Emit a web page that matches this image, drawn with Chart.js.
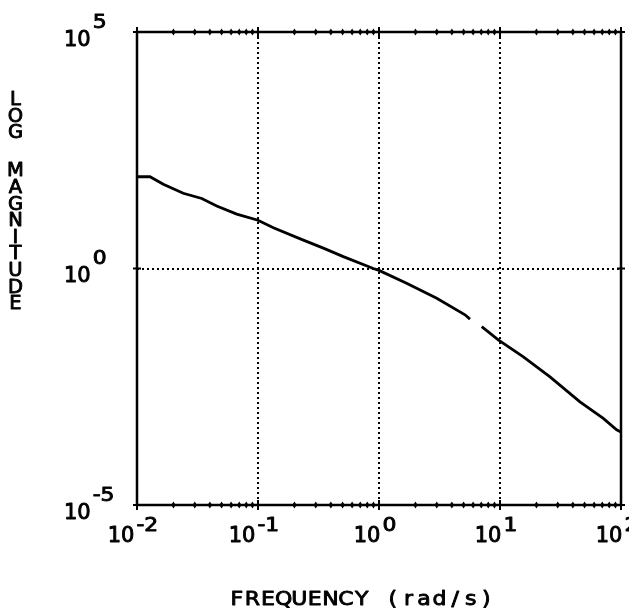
<!DOCTYPE html>
<html><head><meta charset="utf-8">
<script src="https://cdn.jsdelivr.net/npm/chart.js@4/dist/chart.umd.min.js"></script>
<style>html,body{margin:0;padding:0;background:#fff}#wrap{width:629px;height:614px}</style>
</head><body><div id="wrap"><canvas id="c" width="629" height="614"></canvas></div>
<script>
// ---- data ----
const frequency = [0.01, 0.0128, 0.0165, 0.0241, 0.0343, 0.0456, 0.0667, 0.1, 0.134, 0.237, 0.347, 0.507, 0.897, 1.0, 1.69, 3.0, 5.14, 5.65, 6.3, 7.06, 9.68, 15.6, 25.9, 45.8, 71.4, 92.0, 100];
const magnitude = [87.1, 87.1, 60.3, 38.9, 30.2, 20.9, 14.1, 10.5, 7.24, 3.98, 2.69, 1.78, 1.0, 0.912, 0.490, 0.234, 0.105, 0.0851, null, 0.0589, 0.0309, 0.0135, 0.00513, 0.00151, 0.000676, 0.000389, 0.00035];
const xTickExponents = [-2, -1, 0, 1, 2];
const yTickExponents = [-5, 0, 5];
const xTitle = 'FREQUENCY (rad/s)';
const yTitle = 'LOG MAGNITUDE';

const FONT = '"DejaVu Sans", "Liberation Sans", sans-serif';
const expText = e => (e < 0 ? '-' + Math.abs(e) : String(e));

// plotter-style text: regular glyph thickened with a thin stroke, optional horizontal stretch
function penText(ctx, txt, x, y, sx) {
  ctx.save();
  ctx.translate(x, y);
  ctx.scale(sx || 1, 1);
  ctx.lineWidth = 0.9;
  ctx.lineJoin = 'round';
  ctx.fillText(txt, 0, 0);
  ctx.strokeText(txt, 0, 0);
  ctx.restore();
}

const plotter = {
  id: 'plotter',
  beforeDatasetsDraw(chart) {
    const {ctx, chartArea: a, scales: {x, y}} = chart;
    ctx.save();
    ctx.strokeStyle = '#000';
    ctx.lineWidth = 2;
    ctx.setLineDash([2, 3]);
    xTickExponents.slice(1, -1).forEach(e => {
      const px = Math.round(x.getPixelForValue(Math.pow(10, e)));
      ctx.beginPath(); ctx.moveTo(px, a.top); ctx.lineTo(px, a.bottom); ctx.stroke();
    });
    yTickExponents.slice(1, -1).forEach(e => {
      const py = Math.round(y.getPixelForValue(Math.pow(10, e)));
      ctx.beginPath(); ctx.moveTo(a.left, py); ctx.lineTo(a.right, py); ctx.stroke();
    });
    ctx.restore();
  },
  afterDatasetsDraw(chart) {
    const {ctx, chartArea: a, scales: {x, y}} = chart;
    ctx.save();
    ctx.strokeStyle = '#000';
    ctx.fillStyle = '#000';
    // frame
    ctx.lineWidth = 2.5;
    ctx.strokeRect(a.left, a.top, a.right - a.left, a.bottom - a.top);
    // minor tick marks (dots) on top & bottom borders
    for (let i = 0; i < xTickExponents.length - 1; i++) {
      for (let k = 2; k <= 9; k++) {
        const px = x.getPixelForValue(k * Math.pow(10, xTickExponents[i]));
        [a.top, a.bottom].forEach(py => {
          ctx.beginPath();
          ctx.moveTo(px, py - 3.5); ctx.lineTo(px + 2.2, py); ctx.lineTo(px, py + 3.5); ctx.lineTo(px - 2.2, py);
          ctx.closePath(); ctx.fill();
        });
      }
    }
    // major ticks
    ctx.lineWidth = 2;
    xTickExponents.forEach(e => {
      const px = x.getPixelForValue(Math.pow(10, e));
      [a.top, a.bottom].forEach(py => {
        ctx.beginPath(); ctx.moveTo(px, py - 5); ctx.lineTo(px, py + 5); ctx.stroke();
      });
    });
    yTickExponents.forEach(e => {
      const py = y.getPixelForValue(Math.pow(10, e));
      [a.left, a.right].forEach(px => {
        ctx.beginPath(); ctx.moveTo(px - 4, py); ctx.lineTo(px + 4, py); ctx.stroke();
      });
    });
    // x tick labels
    ctx.textBaseline = 'alphabetic';
    ctx.textAlign = 'left';
    const F1 = '21px ' + FONT, F2 = '19px ' + FONT;
    xTickExponents.forEach(e => {
      const px = x.getPixelForValue(Math.pow(10, e));
      ctx.font = F1;
      const w1 = ctx.measureText('10').width;
      ctx.font = F2;
      const et = expText(e);
      const w2 = ctx.measureText(et).width * 1.15;
      const start = px - 4 - (w1 + 2 + w2) / 2;
      ctx.font = F1;
      penText(ctx, '10', start, 542);
      ctx.font = F2;
      penText(ctx, et, start + w1 + 2, 531, 1.15);
    });
    // y tick labels
    yTickExponents.forEach(e => {
      const py = y.getPixelForValue(Math.pow(10, e));
      ctx.font = F1;
      const w1 = ctx.measureText('10').width;
      penText(ctx, '10', 64, py + 13.5);
      ctx.font = F2;
      penText(ctx, expText(e), 64 + w1 + 2, py - 4.5, 1.15);
    });
    // x title: plotter-style fixed cells
    ctx.font = '20px ' + FONT;
    ctx.textAlign = 'center';
    const cell = 15.6, x0 = 229;
    [...xTitle].forEach((ch, i) => {
      if (ch !== ' ') penText(ctx, ch, x0 + (i + 0.5) * cell, 605, 1.1);
    });
    // y title: stacked letters
    ctx.font = '19.5px ' + FONT;
    ctx.textBaseline = 'middle';
    let yy = 100;
    [...yTitle].forEach(ch => {
      if (ch === ' ') { yy += 21.5; return; }
      penText(ctx, ch, 15.5, yy, 1.0);
      yy += 16.6;
    });
    ctx.restore();
  }
};

new Chart(document.getElementById('c'), {
  type: 'scatter',
  data: {
    datasets: [{
      data: frequency.map((f, i) => ({x: f, y: magnitude[i]})),
      showLine: true,
      spanGaps: false,
      borderColor: '#000',
      borderWidth: 2.8,
      pointRadius: 0,
      tension: 0
    }]
  },
  options: {
    responsive: false,
    devicePixelRatio: 1,
    animation: false,
    layout: {padding: {left: 137, right: 8, top: 32, bottom: 109}},
    plugins: {legend: {display: false}, tooltip: {enabled: false}},
    scales: {
      x: {type: 'logarithmic', display: false, min: 0.01, max: 100},
      y: {type: 'logarithmic', display: false, min: 1e-5, max: 1e5}
    }
  },
  plugins: [plotter]
});
</script>
</body></html>
